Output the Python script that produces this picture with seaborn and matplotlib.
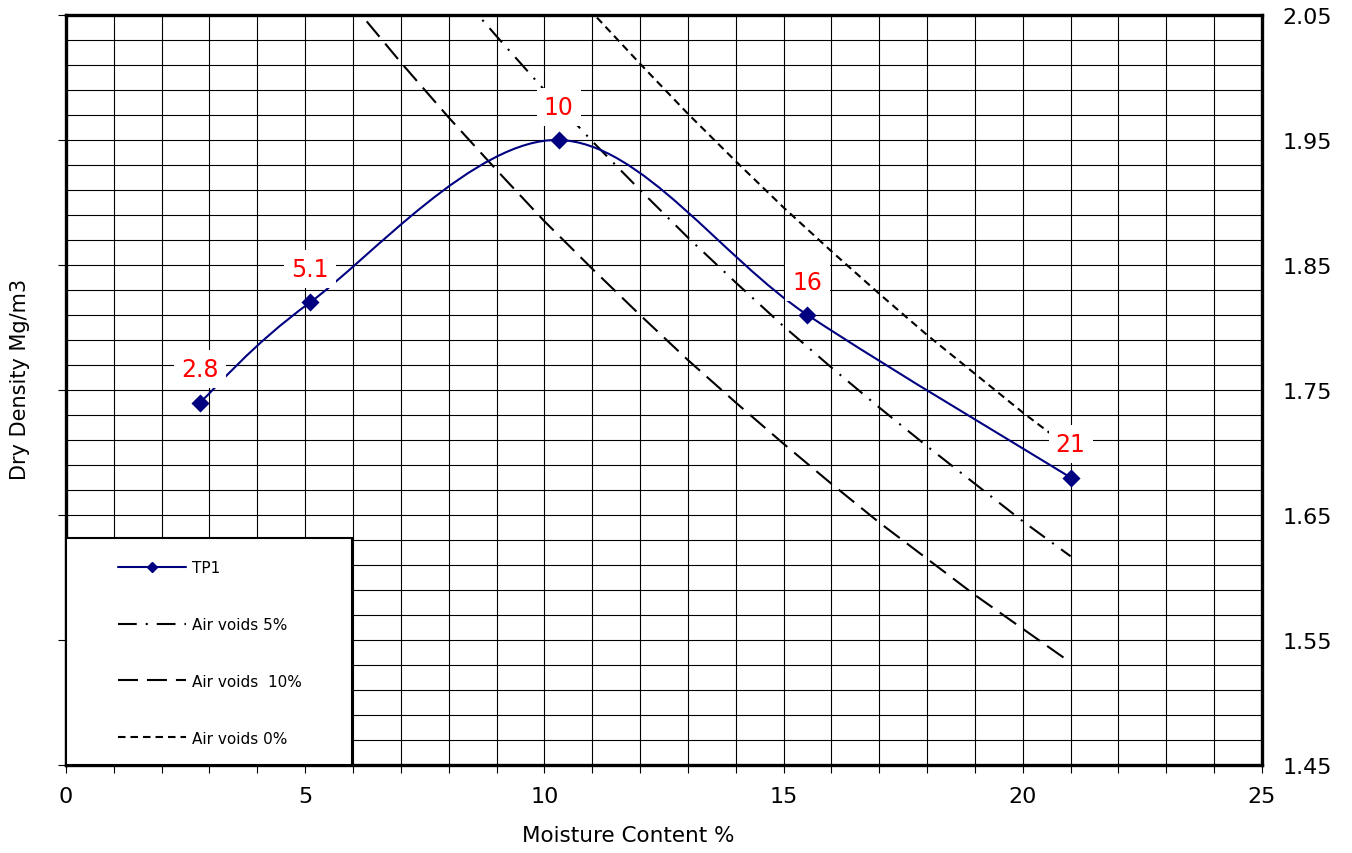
import numpy as np
import matplotlib
matplotlib.use("Agg")
import matplotlib.pyplot as plt
from matplotlib.path import Path
from matplotlib.patches import PathPatch, Rectangle
from matplotlib.lines import Line2D
from matplotlib.ticker import FixedLocator, MultipleLocator
import seaborn as sns

# Compaction test TP1: moisture content (%) and dry density (Mg/m3)
tp1_moisture = [2.8, 5.1, 10.3, 15.5, 21.0]
tp1_density = [1.74, 1.82, 1.95, 1.81, 1.68]

# Air-void lines at whole moisture contents
av_moisture = [5, 6, 7, 8, 9, 10, 11, 12, 13, 14, 15, 16, 17, 18, 19, 20, 21]
av0_density = [2.340, 2.286, 2.235, 2.186, 2.140, 2.095, 2.052, 2.011, 1.971,
               1.933, 1.896, 1.861, 1.827, 1.794, 1.763, 1.732, 1.703]
av5_density = [2.223, 2.172, 2.124, 2.077, 2.033, 1.990, 1.949, 1.910, 1.872,
               1.836, 1.801, 1.768, 1.736, 1.705, 1.675, 1.645, 1.617]
av10_density = [2.106, 2.058, 2.012, 1.968, 1.926, 1.885, 1.847, 1.810, 1.774,
                1.740, 1.707, 1.675, 1.644, 1.615, 1.586, 1.559, 1.532]

y_ticks = [1.45, 1.55, 1.65, 1.75, 1.85, 1.95, 2.05]
x_ticks = [0, 5, 10, 15, 20, 25]

sns.set_theme(style="white")
plt.rcParams["font.family"] = ["DejaVu Sans"]
plt.rcParams["text.color"] = "black"
plt.rcParams["axes.labelcolor"] = "black"
plt.rcParams["xtick.color"] = "black"
plt.rcParams["ytick.color"] = "black"

fig = plt.figure(figsize=(13.52, 8.54), dpi=100)
ax = fig.add_axes([0.0488, 0.1030, 0.8846, 0.8783])

navy = "#000080"

# Smoothed TP1 curve (Catmull-Rom segments as cubic Beziers)
pts = np.column_stack([tp1_moisture, tp1_density])
verts = [tuple(pts[0])]
codes = [Path.MOVETO]
n = len(pts)
for i in range(n - 1):
    p0 = pts[i - 1] if i > 0 else pts[i]
    p1 = pts[i]
    p2 = pts[i + 1]
    p3 = pts[i + 2] if i + 2 < n else pts[i + 1]
    c1 = p1 + (p2 - p0) / 6.0
    c2 = p2 - (p3 - p1) / 6.0
    verts += [tuple(c1), tuple(c2), tuple(p2)]
    codes += [Path.CURVE4] * 3
ax.add_patch(PathPatch(Path(verts, codes), fill=False, edgecolor=navy,
                       lw=1.5, zorder=3))
sns.scatterplot(x=tp1_moisture, y=tp1_density, ax=ax, marker="D", s=85,
                color=navy, edgecolor=navy, linewidth=0, zorder=4)

# Air-void lines
style_5 = (0, (9.0, 4.3, 1.0, 4.3))
style_10 = (0, (9.6, 4.3))
style_0 = (0, (3.6, 2.4))
sns.lineplot(x=av_moisture, y=av5_density, ax=ax, color="black", lw=1.5,
             linestyle=style_5, zorder=2)
sns.lineplot(x=av_moisture, y=av10_density, ax=ax, color="black", lw=1.5,
             linestyle=style_10, zorder=2)
sns.lineplot(x=av_moisture, y=av0_density, ax=ax, color="black", lw=1.5,
             linestyle=style_0, zorder=2)

# Point labels
for mx, dy in zip(tp1_moisture, tp1_density):
    ax.annotate(f"{mx:.2g}", (mx, dy), xytext=(0, 24), textcoords="offset points",
                ha="center", va="center", fontsize=17, color="#ff0000", zorder=5,
                bbox=dict(boxstyle="square,pad=0.3", fc="white", ec="none"))

ax.set_xlim(0, 25)
ax.set_ylim(1.45, 2.05)

ax.xaxis.set_major_locator(FixedLocator(x_ticks))
ax.xaxis.set_minor_locator(MultipleLocator(1))
ax.yaxis.set_major_locator(FixedLocator(y_ticks))
ax.yaxis.set_minor_locator(FixedLocator(np.linspace(1.45, 2.05, 31)))

ax.grid(which="both", color="black", lw=0.8)
ax.set_axisbelow(True)

ax.tick_params(axis="x", which="both", bottom=True, top=False, direction="out",
               length=6, width=0.8, color="black", labelsize=16, pad=9,
               labelcolor="black")
ax.tick_params(axis="y", which="major", left=True, right=False, labelleft=False,
               labelright=True, direction="out", length=6, width=0.8,
               color="black", labelsize=16, pad=9, labelcolor="black")
ax.tick_params(axis="y", which="minor", length=0)
ax.set_yticklabels([f"{v:.2f}" for v in y_ticks])

for sp in ax.spines.values():
    sp.set_visible(True)
    sp.set_color("black")
    sp.set_linewidth(2.4)

ax.set_xlabel("Moisture Content %", fontsize=15.5, color="black")
ax.set_ylabel("Dry Density Mg/m3", fontsize=15, color="black")
ax.xaxis.set_label_coords(0.47, -0.08)
ax.yaxis.set_label_coords(-0.030, 0.516)

# Legend box in the lower-left corner
ax.add_patch(Rectangle((0, 0), 0.239, 0.3027, transform=ax.transAxes,
                       fc="white", ec="black", lw=1.5, zorder=6, clip_on=False))
handles = [
    Line2D([], [], color=navy, lw=1.5, marker="D", markersize=5),
    Line2D([], [], color="black", lw=1.5, linestyle=style_5),
    Line2D([], [], color="black", lw=1.5, linestyle=style_10),
    Line2D([], [], color="black", lw=1.5, linestyle=style_0),
]
labels = ["TP1", "Air voids 5%", "Air voids  10%", "Air voids 0%"]
leg = ax.legend(handles, labels, loc="upper left", bbox_to_anchor=(0.0368, 0.283),
                frameon=False, borderpad=0, handlelength=4.45, handletextpad=0.4,
                labelspacing=2.73, fontsize=11)
for t in leg.get_texts():
    t.set_color("black")
leg.set_zorder(7)

fig.savefig("out.png", dpi=100)
